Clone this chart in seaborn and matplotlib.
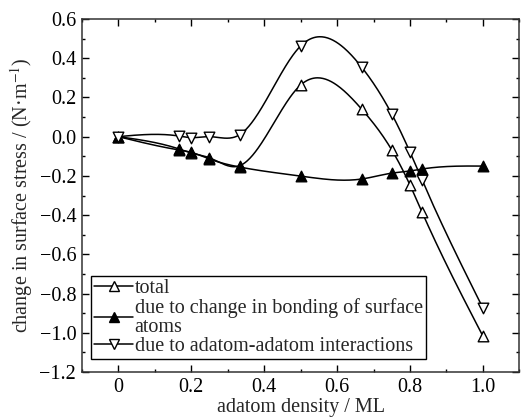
import numpy as np
import pandas as pd
import matplotlib
matplotlib.use("Agg")
import matplotlib.pyplot as plt
from matplotlib.lines import Line2D
from matplotlib.ticker import MultipleLocator
import seaborn as sns

# data
density = [0.0, 0.167, 0.2, 0.25, 0.333, 0.5, 0.667, 0.75, 0.8, 0.833, 1.0]
total = [0.0, -0.063, -0.083, -0.108, -0.148, 0.263, 0.141, -0.068, -0.247, -0.385, -1.017]
bonding = [0.0, -0.068, -0.08, -0.114, -0.155, -0.201, -0.216, -0.186, -0.175, -0.165, -0.15]
adatom = [0.0, 0.003, -0.005, 0.0, 0.01, 0.462, 0.355, 0.115, -0.079, -0.221, -0.874]

labels = ["total",
          "due to change in bonding of surface\natoms",
          "due to adatom-adatom interactions"]


def natural_spline(x, y, n=400):
    # natural cubic spline through the points, only used to draw the connecting line
    x = np.asarray(x, float)
    y = np.asarray(y, float)
    h = np.diff(x)
    k = len(x)
    A = np.zeros((k, k))
    b = np.zeros(k)
    A[0, 0] = A[-1, -1] = 1.0
    for i in range(1, k - 1):
        A[i, i - 1] = h[i - 1]
        A[i, i] = 2 * (h[i - 1] + h[i])
        A[i, i + 1] = h[i]
        b[i] = 6 * ((y[i + 1] - y[i]) / h[i] - (y[i] - y[i - 1]) / h[i - 1])
    M = np.linalg.solve(A, b)
    xs = np.linspace(x[0], x[-1], n)
    idx = np.clip(np.searchsorted(x, xs) - 1, 0, k - 2)
    x0, x1 = x[idx], x[idx + 1]
    hh = x1 - x0
    t0 = x1 - xs
    t1 = xs - x0
    ys = (M[idx] * t0 ** 3 + M[idx + 1] * t1 ** 3) / (6 * hh) \
        + (y[idx] / hh - M[idx] * hh / 6) * t0 \
        + (y[idx + 1] / hh - M[idx + 1] * hh / 6) * t1
    return xs, ys


sns.set_style("ticks")
plt.rcParams['font.family'] = ['Liberation Serif', 'DejaVu Serif']
plt.rcParams['mathtext.fontset'] = 'stix'
fs = 14.5
plt.rcParams['font.size'] = fs

fig, ax = plt.subplots(figsize=(5.21, 4.2), dpi=100)
fig.subplots_adjust(left=0.157, right=0.997, top=0.955, bottom=0.114)

series = [(total, '^', 'white'), (bonding, '^', 'black'), (adatom, 'v', 'white')]

for vals, mk, fc in series:
    xs, ys = natural_spline(density, vals)
    sns.lineplot(x=xs, y=ys, ax=ax, color='black', lw=1.1, sort=False, zorder=2)

for vals, mk, fc in series:
    df = pd.DataFrame({'x': density, 'y': vals})
    sns.scatterplot(data=df, x='x', y='y', ax=ax, marker=mk, s=58,
                    facecolor=fc, edgecolor='black', linewidth=1.0, zorder=3)

ax.set_xlim(-0.1, 1.1)
ax.set_ylim(-1.2, 0.6)
ax.xaxis.set_major_locator(MultipleLocator(0.2))
ax.xaxis.set_minor_locator(MultipleLocator(0.1))
ax.yaxis.set_major_locator(MultipleLocator(0.2))
ax.yaxis.set_minor_locator(MultipleLocator(0.1))
ax.set_xticks([0, 0.2, 0.4, 0.6, 0.8, 1.0])
ax.set_xticklabels(['0', '0.2', '0.4', '0.6', '0.8', '1.0'])
ax.set_yticks(np.round(np.arange(-1.2, 0.61, 0.2), 1))
ax.set_yticklabels(['\u22121.2', '\u22121.0', '\u22120.8', '\u22120.6', '\u22120.4',
                    '\u22120.2', '0.0', '0.2', '0.4', '0.6'])
ax.tick_params(which='both', direction='in', top=True, right=True, width=1.0, colors='black')
ax.tick_params(which='major', length=5, labelsize=fs, pad=4)
ax.tick_params(which='minor', length=2.5)
for s in ax.spines.values():
    s.set_linewidth(1.1)
    s.set_color('#333333')

ax.set_xlabel('adatom density / ML', fontsize=fs, labelpad=1)
ax.set_ylabel('change in surface stress / (N\u00b7m$^{-1}$)', fontsize=fs, labelpad=3)

handles = [Line2D([], [], color='black', lw=1.1, marker=mk, markersize=7.5,
                  markerfacecolor=fc, markeredgecolor='black')
           for vals, mk, fc in series]
leg = ax.legend(handles, labels, loc='lower left', bbox_to_anchor=(0.022, 0.038),
                frameon=True, fancybox=False, edgecolor='black', framealpha=1,
                handlelength=1.9, handletextpad=0.1, borderpad=0.15, labelspacing=0.0,
                borderaxespad=0, fontsize=fs)
leg.get_frame().set_linewidth(1.0)
for t in leg.get_texts():
    t.set_linespacing(0.95)

fig.savefig('out.png', dpi=100)
